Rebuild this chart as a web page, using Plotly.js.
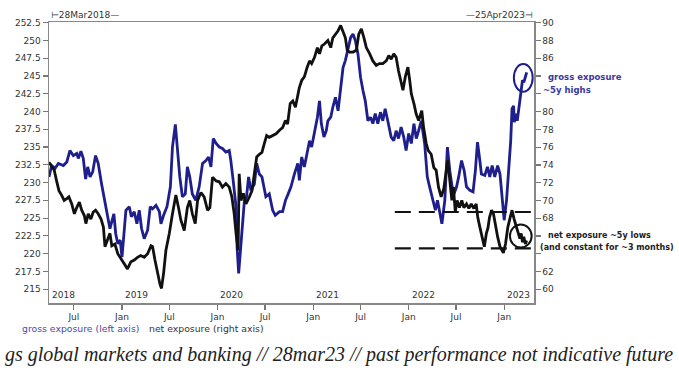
<!DOCTYPE html>
<html>
<head>
<meta charset="utf-8">
<script src="https://cdn.plot.ly/plotly-3.0.1.min.js"></script>
<style>
html,body{margin:0;padding:0;background:#fff;}
#chart{width:679px;height:371px;}
</style>
</head>
<body>
<div id="chart"></div>
<script>
const grossDates = ['2018-03-28','2018-04-07','2018-04-20','2018-05-03','2018-05-22','2018-06-04','2018-06-16','2018-06-29','2018-07-12','2018-07-18','2018-07-28','2018-08-06','2018-08-15','2018-08-23','2018-09-01','2018-09-11','2018-09-22','2018-10-02','2018-10-15','2018-10-28','2018-11-07','2018-11-16','2018-11-23','2018-12-01','2018-12-08','2018-12-16','2018-12-25','2019-01-01','2019-01-16','2019-01-29','2019-02-06','2019-02-17','2019-02-27','2019-03-08','2019-03-17','2019-03-27','2019-04-09','2019-04-19','2019-04-28','2019-05-11','2019-05-24','2019-05-30','2019-06-09','2019-06-22','2019-07-05','2019-07-13','2019-07-24','2019-08-01','2019-08-10','2019-08-20','2019-08-31','2019-09-08','2019-09-17','2019-09-27','2019-10-10','2019-10-23','2019-11-05','2019-11-18','2019-11-28','2019-12-07','2019-12-16','2019-12-27','2020-01-08','2020-01-20','2020-02-02','2020-02-15','2020-02-21','2020-03-01','2020-03-12','2020-03-16','2020-03-22','2020-03-28','2020-04-04','2020-04-13','2020-04-21','2020-04-29','2020-05-08','2020-05-21','2020-05-30','2020-06-09','2020-06-19','2020-07-04','2020-07-17','2020-07-30','2020-08-09','2020-08-25','2020-09-06','2020-09-17','2020-09-25','2020-10-08','2020-10-21','2020-11-03','2020-11-09','2020-11-18','2020-11-28','2020-12-09','2020-12-18','2020-12-26','2021-01-06','2021-01-17','2021-01-25','2021-02-01','2021-02-11','2021-02-20','2021-02-26','2021-03-09','2021-03-17','2021-03-27','2021-04-06','2021-04-16','2021-04-25','2021-05-04','2021-05-14','2021-05-24','2021-06-02','2021-06-11','2021-06-21','2021-07-01','2021-07-10','2021-07-19','2021-07-29','2021-08-08','2021-08-17','2021-08-26','2021-09-05','2021-09-15','2021-09-24','2021-10-03','2021-10-13','2021-10-26','2021-11-05','2021-11-14','2021-11-23','2021-12-03','2021-12-13','2021-12-22','2022-01-01','2022-01-11','2022-01-21','2022-01-30','2022-02-08','2022-02-18','2022-03-03','2022-03-13','2022-03-22','2022-04-04','2022-04-13','2022-04-21','2022-04-30','2022-05-08','2022-05-19','2022-05-29','2022-06-07','2022-06-16','2022-06-23','2022-07-03','2022-07-11','2022-07-22','2022-08-01','2022-08-10','2022-08-23','2022-09-04','2022-09-13','2022-09-21','2022-09-30','2022-10-06','2022-10-19','2022-10-29','2022-11-07','2022-11-16','2022-11-26','2022-12-07','2022-12-16','2022-12-24','2023-01-01','2023-01-10','2023-01-19','2023-01-26','2023-01-31','2023-02-06','2023-02-09','2023-02-14','2023-02-20','2023-02-25','2023-03-02','2023-03-07','2023-03-12','2023-03-17','2023-03-23','2023-03-28'];
const grossValues = [230.8,232.4,232.0,232.7,232.4,232.9,234.5,233.8,234.1,233.4,234.4,233.4,230.5,232.2,230.8,231.5,233.8,232.7,229.8,227.0,225.4,223.5,224.5,225.6,222.8,221.4,221.9,219.5,226.1,226.6,225.2,225.9,224.2,226.1,223.5,222.1,223.3,226.6,226.3,226.8,225.9,224.2,225.4,226.6,229.4,235.0,238.2,234.1,230.8,228.0,228.4,232.2,230.8,228.4,227.5,229.4,232.7,233.1,233.6,232.2,236.2,235.5,235.0,234.8,234.3,234.5,233.1,230.3,226.6,220.9,217.2,220.0,223.8,227.5,228.0,230.8,228.9,229.8,232.7,231.2,230.8,228.0,228.4,226.1,225.4,225.9,225.9,227.5,228.2,229.4,231.2,232.7,230.3,233.6,232.2,234.1,235.9,235.0,237.3,239.2,241.5,238.3,236.4,237.3,238.7,239.2,240.6,242.0,240.1,243.4,246.2,247.2,249.0,250.4,250.9,250.0,248.1,244.8,243.0,241.5,238.7,239.2,238.3,239.7,238.3,239.9,238.7,240.4,238.7,236.4,235.9,237.3,236.2,237.8,236.4,234.5,236.9,235.5,238.3,236.2,237.3,238.7,235.5,230.8,229.4,227.5,226.1,227.5,225.9,224.2,227.5,235.0,231.7,229.4,228.4,229.4,230.8,233.1,231.7,229.4,228.9,228.7,231.7,235.7,233.1,231.2,231.0,232.2,230.8,232.4,230.8,232.4,231.2,227.5,224.7,227.5,231.7,235.9,240.4,240.8,238.5,239.7,238.7,240.1,241.1,243.0,244.4,244.1,245.1,245.5];

const netDates = ['2018-03-28','2018-04-07','2018-04-17','2018-04-26','2018-05-05','2018-05-15','2018-05-25','2018-06-04','2018-06-12','2018-06-23','2018-07-03','2018-07-12','2018-07-22','2018-07-31','2018-08-10','2018-08-16','2018-08-25','2018-09-04','2018-09-13','2018-09-22','2018-10-02','2018-10-13','2018-10-22','2018-10-28','2018-11-07','2018-11-16','2018-11-23','2018-12-05','2018-12-16','2018-12-29','2019-01-07','2019-01-22','2019-02-04','2019-02-17','2019-03-01','2019-03-14','2019-03-27','2019-04-09','2019-04-22','2019-04-28','2019-05-07','2019-05-17','2019-05-26','2019-06-01','2019-06-09','2019-06-18','2019-07-01','2019-07-13','2019-07-26','2019-08-05','2019-08-14','2019-08-27','2019-09-08','2019-09-17','2019-09-27','2019-10-08','2019-10-17','2019-10-30','2019-11-11','2019-11-24','2019-12-03','2019-12-13','2019-12-27','2020-01-08','2020-01-20','2020-02-02','2020-02-15','2020-02-25','2020-03-05','2020-03-12','2020-03-18','2020-03-20','2020-03-24','2020-03-31','2020-04-09','2020-04-19','2020-05-02','2020-05-12','2020-05-21','2020-05-30','2020-06-09','2020-06-19','2020-06-28','2020-07-07','2020-07-17','2020-07-30','2020-08-12','2020-08-25','2020-09-06','2020-09-17','2020-09-25','2020-10-05','2020-10-15','2020-10-25','2020-11-03','2020-11-09','2020-11-18','2020-11-28','2020-12-09','2020-12-18','2020-12-26','2021-01-06','2021-01-17','2021-01-25','2021-02-03','2021-02-13','2021-02-26','2021-03-09','2021-03-17','2021-03-27','2021-04-06','2021-04-16','2021-04-25','2021-05-04','2021-05-11','2021-05-20','2021-06-02','2021-06-15','2021-06-24','2021-07-04','2021-07-14','2021-07-23','2021-08-05','2021-08-17','2021-08-30','2021-09-11','2021-09-24','2021-10-07','2021-10-17','2021-10-26','2021-11-05','2021-11-14','2021-11-23','2021-12-01','2021-12-10','2021-12-19','2021-12-29','2022-01-05','2022-01-11','2022-01-21','2022-01-30','2022-02-08','2022-02-20','2022-02-27','2022-03-09','2022-03-17','2022-03-28','2022-04-07','2022-04-16','2022-04-25','2022-05-05','2022-05-15','2022-05-24','2022-05-30','2022-06-06','2022-06-15','2022-06-21','2022-06-28','2022-07-05','2022-07-14','2022-07-23','2022-07-31','2022-08-10','2022-08-19','2022-08-28','2022-09-07','2022-09-16','2022-09-22','2022-09-30','2022-10-09','2022-10-17','2022-10-25','2022-10-31','2022-11-06','2022-11-14','2022-11-21','2022-11-29','2022-12-07','2022-12-16','2022-12-24','2022-12-29','2023-01-06','2023-01-15','2023-01-24','2023-01-31','2023-02-08','2023-02-17','2023-02-23','2023-03-02','2023-03-07','2023-03-12','2023-03-17','2023-03-23','2023-03-28'];
const netValues = [74.3,73.9,73.4,72.2,71.1,70.6,70.0,70.2,70.4,69.6,68.5,69.2,69.8,68.9,68.3,67.4,68.5,67.9,68.7,68.9,68.5,67.9,67.0,64.8,65.5,66.3,64.9,65.1,64.0,63.4,62.9,62.3,63.1,63.3,63.6,63.8,63.6,64.0,64.9,64.8,63.3,61.8,60.6,60.1,61.8,64.4,66.3,68.5,70.6,69.2,67.8,66.6,69.2,70.0,68.5,67.4,70.0,70.9,70.4,68.9,69.2,72.6,72.2,72.1,71.5,71.9,71.5,70.4,68.5,66.3,64.9,64.4,73.0,70.0,70.8,69.6,70.4,71.1,73.0,74.9,75.2,75.4,76.4,77.3,77.1,77.3,77.5,77.9,78.2,79.0,78.6,80.9,81.2,80.5,82.0,82.7,83.5,83.9,85.0,85.7,85.4,86.1,87.2,86.5,87.4,87.6,88.0,87.2,88.3,88.7,89.1,89.7,89.1,88.3,86.9,86.7,86.7,86.9,88.7,89.3,88.3,87.2,86.5,85.7,85.2,85.4,85.4,85.7,86.3,85.9,86.5,86.1,84.6,83.5,82.4,83.9,85.0,83.5,82.0,80.9,79.7,79.0,80.1,78.2,76.4,75.6,75.2,73.7,73.4,71.5,70.4,71.3,73.4,74.5,72.6,70.0,71.5,68.7,70.0,69.2,70.0,69.2,69.6,69.1,69.6,69.1,69.6,68.1,67.0,65.9,64.8,66.3,66.9,68.1,68.9,68.5,67.0,65.9,64.8,64.4,64.1,65.1,67.0,68.1,68.9,67.9,67.0,66.3,65.7,66.3,65.3,65.9,65.1,65.5];

const xTickVals = ['2018-07-01','2019-01-01','2019-07-01','2020-01-01','2020-07-01','2021-01-01','2021-07-01','2022-01-01','2022-07-01','2023-01-01'];
const xTickText = ['Jul','Jan','Jul','Jan','Jul','Jan','Jul','Jan','Jul','Jan'];
const yearLabels = ['2018','2019','2020','2021','2022','2023'];
const yearStarts = ['2018-03-28','2019-01-01','2020-01-01','2021-01-01','2022-01-01','2023-01-01'];
const leftTickVals = [215,217.5,220,222.5,225,227.5,230,232.5,235,237.5,240,242.5,245,247.5,250,252.5];
const leftTickText = ['215','217.5','220','222.5','225','227.5','230','232.5','235','237.5','240','242.5','245','247.5','250','252.5'];
const rightTickVals = [60,62,64,66,68,70,72,74,76,78,80,82,84,86,88,90];
const rightTickText = ['60','62','','','68','70','72','74','76','78','80','','','86','88','90'];

const navy = '#1e1e8c';
const font = 'DejaVu Sans, Verdana, sans-serif';

const traces = [
  {x: grossDates, y: grossValues, type: 'scatter', mode: 'lines', yaxis: 'y',
   line: {color: navy, width: 2.8}, hoverinfo: 'skip'},
  {x: netDates, y: netValues, type: 'scatter', mode: 'lines', yaxis: 'y2',
   line: {color: '#111111', width: 2.8}, hoverinfo: 'skip'}
];

const annotations = [];
yearLabels.forEach((t, i) => {
  annotations.push({text: t, x: yearStarts[i], xref: 'x', y: 0, yref: 'paper',
    xanchor: 'left', yanchor: 'bottom', xshift: 1, yshift: 1, showarrow: false,
    font: {family: font, size: 9, color: '#333'}});
});
annotations.push(
  {text: '⊢28Mar2018—', x: 0, xref: 'paper', y: 1, yref: 'paper', xanchor: 'left', yanchor: 'bottom',
   yshift: 0, showarrow: false, font: {family: font, size: 9, color: '#333'}},
  {text: '—25Apr2023⊣', x: 1, xref: 'paper', y: 1, yref: 'paper', xanchor: 'right', yanchor: 'bottom',
   xshift: 1, showarrow: false, font: {family: font, size: 9, color: '#333'}},
  {text: '<b>gross exposure</b>', x: 1.0247, xref: 'paper', y: 83.9, yref: 'y2', xanchor: 'left', yanchor: 'middle',
   showarrow: false, font: {family: font, size: 8.5, color: '#3a3a9c'}},
  {text: '<b>~5y highs</b>', x: 1.0144, xref: 'paper', y: 82.45, yref: 'y2', xanchor: 'left', yanchor: 'middle',
   showarrow: false, font: {family: font, size: 8.5, color: '#3a3a9c'}},
  {text: '<b>net exposure ~5y lows</b>', x: 1.0247, xref: 'paper', y: 66.05, yref: 'y2', xanchor: 'left', yanchor: 'middle',
   showarrow: false, font: {family: font, size: 8, color: '#222'}},
  {text: '<b>(and constant for ~3 months)</b>', x: 1.008, xref: 'paper', y: 64.7, yref: 'y2', xanchor: 'left', yanchor: 'middle',
   showarrow: false, font: {family: font, size: 8, color: '#222'}},
  {text: 'gross exposure (left axis)', x: -0.0598, xref: 'paper', y: -0.089, yref: 'paper', xanchor: 'left', yanchor: 'middle',
   showarrow: false, font: {family: font, size: 9.3, color: '#4a4aa6'}},
  {text: 'net exposure (right axis)', x: 0.202, xref: 'paper', y: -0.089, yref: 'paper', xanchor: 'left', yanchor: 'middle',
   showarrow: false, font: {family: font, size: 9.3, color: '#333'}},
  {text: '<i>gs global markets and banking // 28mar23 // past performance not indicative future</i>',
   x: 0.598, xref: 'paper', y: -0.185, yref: 'paper', xanchor: 'center', yanchor: 'middle',
   showarrow: false, font: {family: 'Liberation Serif, serif', size: 20, color: '#222'}}
);

const shapes = [
  {type: 'line', xref: 'paper', yref: 'y2', x0: 0.713, x1: 1.006, y0: 68.7, y1: 68.7,
   line: {color: '#111', width: 2.2, dash: '16px,8px'}},
  {type: 'line', xref: 'paper', yref: 'y2', x0: 0.713, x1: 1.0, y0: 64.6, y1: 64.6,
   line: {color: '#111', width: 2.2, dash: '16px,8px'}},
  {type: 'circle', xref: 'x', yref: 'y', x0: '2023-02-07', x1: '2023-04-20', y0: 242.8, y1: 246.7,
   line: {color: navy, width: 2}},
  {type: 'circle', xref: 'x', yref: 'y2', x0: '2023-01-23', x1: '2023-04-16', y0: 64.7, y1: 67.3,
   line: {color: '#111', width: 2}}
];

const layout = {
  width: 679, height: 371,
  margin: {l: 49, r: 145, t: 22, b: 68, pad: 0},
  paper_bgcolor: '#fff', plot_bgcolor: '#fff',
  showlegend: false, hovermode: false,
  font: {family: font, size: 9, color: '#333'},
  xaxis: {type: 'date', range: ['2018-03-28', '2023-04-25'],
    tickvals: xTickVals, ticktext: xTickText, ticks: 'outside', ticklen: 5, tickwidth: 1.2,
    tickcolor: '#777', showline: true, linecolor: '#888', linewidth: 1.5, mirror: true,
    showgrid: false, zeroline: false, tickfont: {family: font, size: 9, color: '#333'}},
  yaxis: {range: [213.05, 252.6], tickvals: leftTickVals, ticktext: leftTickText,
    ticks: 'outside', ticklen: 5, tickwidth: 1.2, tickcolor: '#777', showline: true,
    linecolor: '#888', linewidth: 1.5, showgrid: false, zeroline: false,
    tickfont: {family: font, size: 9, color: '#333'}},
  yaxis2: {range: [58.46, 90.08], overlaying: 'y', side: 'right', tickvals: rightTickVals,
    ticktext: rightTickText, ticks: 'outside', ticklen: 5, tickwidth: 1.2, tickcolor: '#777',
    showline: true, linecolor: '#888', linewidth: 1.5, showgrid: false, zeroline: false,
    tickfont: {family: font, size: 9, color: '#333'}},
  annotations: annotations,
  shapes: shapes
};

Plotly.newPlot('chart', traces, layout, {staticPlot: true, displayModeBar: false});
</script>
</body>
</html>
